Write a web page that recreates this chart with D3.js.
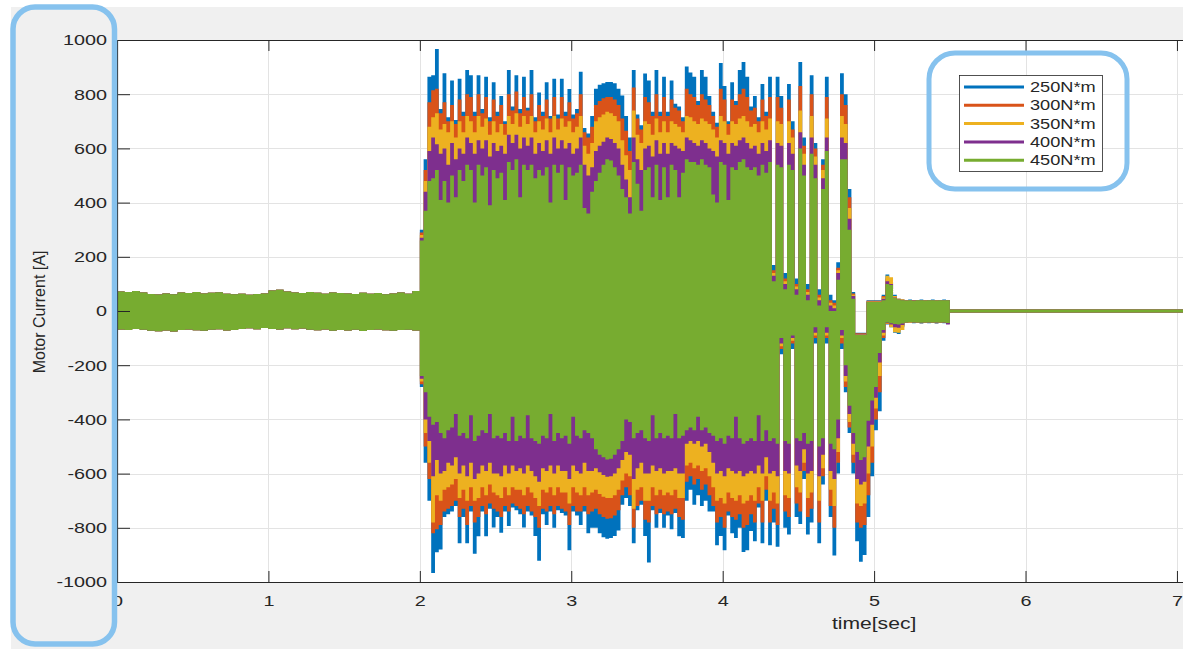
<!DOCTYPE html>
<html>
<head>
<meta charset="utf-8">
<script src="https://cdnjs.cloudflare.com/ajax/libs/d3/7.8.5/d3.min.js"></script>
<style>
  body { margin: 0; background: #fff; }
  svg { display: block; }
</style>
</head>
<body>
<svg id="chart" width="1183" height="649"></svg>
<script>
// legend / series
const seriesNames = ["250N*m", "300N*m", "350N*m", "400N*m", "450N*m"];
const seriesColors = ["#0072BD", "#D95319", "#EDB120", "#7E2F8E", "#77AC30"];

// tick values
const xTicks = [0, 1, 2, 3, 4, 5, 6, 7];
const yTicks = [-1000, -800, -600, -400, -200, 0, 200, 400, 600, 800, 1000];

// before the load step all runs give the same current (upper / lower edge of the band)
const idleStart = 0, idleStep = 0.05;
const idleHi = [72, 70, 74, 68, 63, 61, 65, 62, 68, 66, 70, 65, 67, 69, 64, 62, 64, 60, 63, 65,
  76, 78, 72, 68, 66, 70, 67, 64, 68, 66, 65, 63, 67, 64, 66, 62, 65, 68, 64, 74];
const idleLo = [-68, -70, -66, -69, -73, -75, -72, -76, -70, -68, -71, -73, -69, -67, -72, -70, -66, -64, -67, -63,
  -66, -68, -64, -67, -65, -69, -71, -68, -73, -70, -72, -69, -74, -70, -68, -71, -73, -70, -69, -72];

// loaded part, one column every 0.025 s from 2 s to 5.5 s (max / min of the current)
const runStart = 2, runStep = 0.025;

const hi250 = [300,560,864,870,967,745,877,715,851,705, 857,735,889,870,735,870,745,864,715,844,
  735,793,700,889,755,870,745,864,750,889, 715,806,735,844,720,857,725,857,735,819,
  725,745,883,675,655,720,820,835,840,845, 845,840,820,795,720,640,889,725,685,876,
  851,735,889,735,864,735,851,765,755,715, 902,880,864,775,889,864,793,735,695,915,
  830,700,844,775,889,919,864,755,793,715, 838,735,864,170,864,793,140,838,700,120,
  919,640,100,870,620,80,560,864,60,40, 180,877,800,450,70,-80,-80,-80,40,40,
  40,40,60,135,110,60,45,42,41,42, 40,41,42,40,41,42,40,41,42,41, 40];
const lo250 = [-280,-560,-700,-967,-890,-880,-760,-750,-740,-720, -857,-760,-857,-740,-896,-831,-740,-831,-730,-799,
  -760,-818,-740,-793,-725,-735,-750,-799,-740,-755, -830,-922,-750,-790,-740,-800,-735,-745,-755,-883,
  -740,-755,-790,-740,-820,-800,-800,-820,-835,-840, -838,-830,-810,-715,-690,-720,-857,-735,-715,-830,
  -928,-735,-800,-745,-800,-755,-805,-745,-831,-838, -700,-660,-715,-680,-720,-700,-740,-740,-864,-830,
  -883,-755,-820,-838,-800,-889,-883,-812,-850,-725, -857,-700,-864,-780,-870,-160,-800,-825,-140,-760,
  -786,-620,-825,-780,-120,-857,-640,-120,-760,-902, -600,-140,-300,-450,-600,-850,-925,-900,-760,-610,
  -440,-370,-110,-50,-60,-80,-85,-60,-44,-43, -45,-44,-46,-44,-45,-44,-46,-44,-45,-48, -45];

const hi300 = [290,520,770,815,820,730,770,700,760,690, 780,720,800,790,720,800,730,790,700,780,
  720,760,690,800,740,810,730,790,740,800, 700,760,720,780,710,790,710,790,720,770,
  710,730,800,660,640,680,760,775,785,790, 790,780,760,710,665,590,825,710,670,790,
  770,720,800,720,790,720,780,750,740,700, 820,800,790,760,800,780,760,720,680,820,
  780,690,780,760,800,820,790,740,750,700, 780,720,790,150,790,750,120,780,670,100,
  830,610,80,800,600,60,540,790,40,30, 160,800,760,420,65,-82,-82,-82,38,38,
  38,38,55,120,105,55,45,42,40,41, 40,41,41,40,41,41,40,41,41,40, 40];
const lo300 = [-270,-500,-620,-820,-805,-790,-740,-730,-720,-700, -760,-730,-790,-720,-780,-760,-720,-750,-710,-730,
  -740,-760,-720,-740,-710,-720,-730,-750,-720,-740, -760,-800,-730,-740,-720,-750,-720,-730,-740,-790,
  -720,-740,-740,-720,-750,-740,-730,-750,-760,-767, -765,-755,-735,-680,-650,-680,-800,-720,-700,-770,
  -780,-720,-750,-730,-750,-740,-750,-730,-760,-770, -630,-610,-640,-620,-660,-640,-680,-720,-780,-760,
  -800,-740,-760,-770,-750,-800,-790,-750,-780,-710, -780,-660,-780,-730,-790,-140,-740,-760,-120,-710,
  -740,-590,-760,-730,-100,-780,-610,-100,-720,-800, -560,-120,-280,-430,-560,-780,-800,-790,-680,-560,
  -400,-300,-100,-48,-55,-70,-72,-55,-43,-42, -44,-43,-45,-43,-44,-43,-45,-43,-44,-46, -44];

const hi350 = [280,480,680,715,730,670,690,660,700,640, 700,660,720,700,660,720,680,710,650,700,
  660,690,650,720,690,730,680,720,690,720, 660,700,670,710,660,720,670,710,680,700,
  660,680,720,610,580,620,700,715,725,735, 730,720,700,630,575,520,740,650,620,700,
  690,650,710,660,700,660,700,690,680,660, 720,715,700,690,710,700,690,670,640,720,
  700,650,700,690,710,720,700,680,690,660, 700,670,710,140,700,690,110,700,640,90,
  740,580,70,720,570,50,520,710,30,20, 150,720,690,380,60,-85,-85,-85,36,36,
  36,36,50,130,125,55,45,42,40,41, 39,40,41,40,40,41,40,40,41,40, 40];
const lo350 = [-260,-450,-560,-780,-680,-700,-660,-650,-640,-620, -690,-660,-700,-650,-700,-690,-650,-680,-640,-670,
  -680,-690,-650,-680,-650,-660,-660,-680,-650,-670, -690,-720,-660,-670,-650,-680,-650,-670,-670,-710,
  -650,-670,-680,-650,-680,-670,-660,-675,-685,-690, -690,-680,-660,-625,-600,-610,-730,-660,-650,-700,
  -700,-650,-680,-660,-680,-670,-680,-660,-690,-690, -570,-560,-580,-570,-590,-580,-610,-650,-700,-690,
  -710,-670,-690,-700,-680,-710,-700,-680,-700,-650, -700,-610,-700,-670,-710,-130,-680,-690,-110,-650,
  -670,-560,-690,-670,-90,-700,-580,-90,-660,-720, -520,-100,-260,-410,-530,-710,-720,-710,-600,-500,
  -360,-240,-90,-46,-60,-78,-80,-70,-43,-42, -44,-43,-44,-43,-44,-43,-44,-43,-44,-45, -44];

const hi400 = [270,440,590,640,615,580,600,540,620,560, 600,580,640,620,580,630,600,630,570,620,
  590,610,580,650,620,650,600,640,610,640, 580,620,590,630,580,640,600,630,600,620,
  580,600,640,540,500,530,590,610,625,640, 635,620,600,540,485,420,640,560,520,600,
  610,570,630,580,620,580,620,610,600,590, 640,630,620,610,630,620,600,590,570,630,
  620,580,620,610,630,640,620,600,610,580, 620,590,630,130,620,610,100,620,580,80,
  660,540,60,640,540,40,490,640,20,10, 140,640,620,340,55,-87,-87,-87,34,34,
  34,34,45,110,100,50,42,40,39,40, 39,40,40,39,40,40,39,40,40,40, 40];
const lo400 = [-250,-400,-480,-610,-550,-600,-590,-560,-570,-540, -600,-570,-610,-560,-620,-600,-570,-590,-560,-600,
  -600,-610,-570,-600,-570,-590,-580,-600,-570,-590, -610,-630,-580,-590,-570,-600,-570,-590,-590,-620,
  -570,-590,-600,-560,-590,-590,-580,-595,-605,-612, -610,-600,-580,-550,-520,-530,-620,-580,-560,-600,
  -600,-570,-590,-580,-600,-590,-590,-580,-600,-600, -490,-480,-490,-480,-500,-490,-520,-560,-600,-590,
  -610,-580,-590,-600,-590,-610,-600,-590,-600,-570, -600,-540,-600,-590,-610,-120,-590,-600,-100,-570,
  -590,-510,-600,-590,-80,-610,-530,-80,-590,-620, -470,-90,-240,-380,-490,-620,-640,-630,-500,-420,
  -320,-190,-80,-44,-50,-60,-62,-52,-42,-41, -43,-42,-44,-42,-43,-42,-43,-42,-43,-50, -44];

const hi450 = [260,370,480,490,520,410,480,400,500,420, 520,480,540,520,400,540,500,530,390,520,
  490,510,410,550,520,560,420,540,520,540, 490,520,500,530,400,540,510,540,410,530,
  500,510,540,380,360,440,480,510,540,560, 555,530,500,450,420,360,550,470,370,520,
  530,420,540,410,530,420,540,520,420,510, 560,550,550,540,560,540,530,430,400,550,
  540,410,530,520,550,560,530,520,530,500, 540,510,550,110,540,530,80,540,520,60,
  600,500,40,580,490,20,450,590,0,0, 115,560,560,300,45,-89,-89,-89,33,33,
  33,33,40,100,96,48,42,40,39,40, 38,40,40,39,40,40,39,40,40,40, 40];
const lo450 = [-240,-300,-390,-420,-410,-450,-470,-440,-430,-380, -460,-450,-470,-385,-480,-460,-440,-450,-380,-470,
  -460,-470,-450,-480,-390,-480,-460,-470,-385,-470, -480,-490,-460,-470,-380,-480,-450,-470,-460,-490,
  -390,-460,-470,-440,-450,-470,-510,-530,-540,-548, -545,-530,-510,-480,-400,-410,-470,-450,-440,-470,
  -480,-385,-470,-450,-470,-460,-470,-380,-470,-460, -440,-430,-440,-390,-440,-430,-450,-460,-480,-470,
  -490,-460,-470,-390,-470,-490,-480,-470,-480,-385, -480,-440,-480,-470,-490,-100,-480,-490,-90,-470,
  -480,-450,-490,-480,-60,-500,-470,-60,-490,-510, -400,-70,-200,-350,-450,-520,-550,-540,-405,-330,
  -280,-155,-70,-42,-45,-48,-50,-46,-42,-41, -42,-42,-43,-42,-42,-42,-42,-42,-42,-44, -44];

// after the stop the current stays at zero
const restTime = [5.5, 7.1];
const restValue = [0, 0];

const highs = [hi250, hi300, hi350, hi400, hi450];
const lows = [lo250, lo300, lo350, lo400, lo450];

const svg = d3.select('#chart');
const W = 1183, H = 649;
const plotLeft = 117, plotTop = 40, plotBottom = 582;
const font = '"Liberation Sans", Arial, Helvetica, sans-serif';
const ink = '#262626';
const stretch = 1.32; // picture text is wide

const x = d3.scaleLinear().domain([0, 7.04]).range([plotLeft, W]);
const y = d3.scaleLinear().domain([-1000, 1000]).range([plotBottom, plotTop]);

// figure background + white axes box
svg.append('rect').attr('x', 11).attr('y', 7).attr('width', W - 11).attr('height', H - 7).attr('fill', '#f0f0f0');
svg.append('rect').attr('x', plotLeft).attr('y', plotTop).attr('width', W - plotLeft).attr('height', plotBottom - plotTop).attr('fill', '#fff');

// grid
const grid = svg.append('g').attr('stroke', '#e3e3e3').attr('stroke-width', 1);
grid.selectAll('.gx').data(xTicks.slice(1)).enter().append('line')
  .attr('x1', d => Math.round(x(d)) + 0.5).attr('x2', d => Math.round(x(d)) + 0.5)
  .attr('y1', plotTop).attr('y2', plotBottom);
grid.selectAll('.gy').data(yTicks.slice(1, -1)).enter().append('line')
  .attr('x1', plotLeft).attr('x2', W)
  .attr('y1', d => Math.round(y(d)) + 0.5).attr('y2', d => Math.round(y(d)) + 0.5);

// data
svg.append('clipPath').attr('id', 'plotclip').append('rect')
  .attr('x', plotLeft).attr('y', plotTop).attr('width', W - plotLeft).attr('height', plotBottom - plotTop);
const plot = svg.append('g').attr('clip-path', 'url(#plotclip)');

const band = d3.area()
  .x(d => x(d.t)).y0(d => y(d.lo)).y1(d => y(d.hi))
  .curve(d3.curveStepAfter);
const restLine = d3.line().x(d => x(d[0])).y(d => y(d[1]));

seriesNames.forEach((name, s) => {
  const pts = idleHi.map((v, i) => ({t: idleStart + i * idleStep, hi: v, lo: idleLo[i]}))
    .concat(highs[s].map((v, k) => ({t: runStart + k * runStep, hi: v, lo: lows[s][k]})));
  plot.append('path').datum(pts)
    .attr('fill', seriesColors[s])
    .attr('d', band);
  plot.append('path').datum(restTime.map((t, i) => [t, restValue[i]]))
    .attr('fill', 'none').attr('stroke', seriesColors[s]).attr('stroke-width', 3)
    .attr('d', restLine);
});

// axes
const yAxis = svg.append('g').attr('transform', `translate(${plotLeft},0)`)
  .call(d3.axisLeft(y).tickValues(yTicks).tickSizeInner(-13).tickSizeOuter(0).tickPadding(10)
    .tickFormat(d => String(d)));
const xAxis = svg.append('g').attr('transform', `translate(0,${plotBottom})`)
  .call(d3.axisBottom(x).tickValues(xTicks).tickSizeInner(-11).tickSizeOuter(0).tickPadding(13)
    .tickFormat(d => String(d)));
const xTop = svg.append('g').attr('transform', `translate(0,${plotTop})`)
  .call(d3.axisTop(x).tickValues(xTicks).tickSizeInner(-11).tickSizeOuter(0).tickFormat(() => ''));

[yAxis, xAxis, xTop].forEach(g => {
  g.attr('font-family', font).attr('font-size', 15).attr('color', ink);
  g.select('.domain').attr('stroke-width', 1.2);
});
yAxis.selectAll('text').attr('x', -10 / stretch).attr('transform', `scale(${stretch},1)`).attr('fill', ink);
xAxis.selectAll('text').attr('transform', `scale(${stretch},1)`).attr('fill', ink);

// axis titles
svg.append('text')
  .attr('transform', `translate(${x(5)},629) scale(${stretch},1)`)
  .attr('text-anchor', 'middle').attr('font-family', font).attr('font-size', 16).attr('fill', ink)
  .text('time[sec]');
svg.append('text')
  .attr('transform', 'translate(45,312) rotate(-90)')
  .attr('text-anchor', 'middle').attr('font-family', font).attr('font-size', 16).attr('fill', ink)
  .text('Motor Current [A]');

// legend
const legend = svg.append('g');
legend.append('rect').attr('x', 959.5).attr('y', 75.5).attr('width', 143).attr('height', 96)
  .attr('fill', '#fff').attr('stroke', ink).attr('stroke-width', 0.8);
seriesNames.forEach((name, s) => {
  const ly = 87 + s * 18.3;
  legend.append('line').attr('x1', 964).attr('x2', 1024).attr('y1', ly).attr('y2', ly)
    .attr('stroke', seriesColors[s]).attr('stroke-width', 3);
  legend.append('text')
    .attr('transform', `translate(1030,${ly + 5}) scale(1.3,1)`)
    .attr('font-family', font).attr('font-size', 14).attr('fill', ink)
    .text(name);
});

// highlight frames
const mark = '#86c2ee';
svg.append('rect').attr('x', 13).attr('y', 7).attr('width', 101.5).attr('height', 637).attr('rx', 22)
  .attr('fill', 'none').attr('stroke', mark).attr('stroke-width', 5.5);
svg.append('rect').attr('x', 929).attr('y', 53).attr('width', 198).attr('height', 136).attr('rx', 26)
  .attr('fill', 'none').attr('stroke', mark).attr('stroke-width', 5);
</script>
</body>
</html>
